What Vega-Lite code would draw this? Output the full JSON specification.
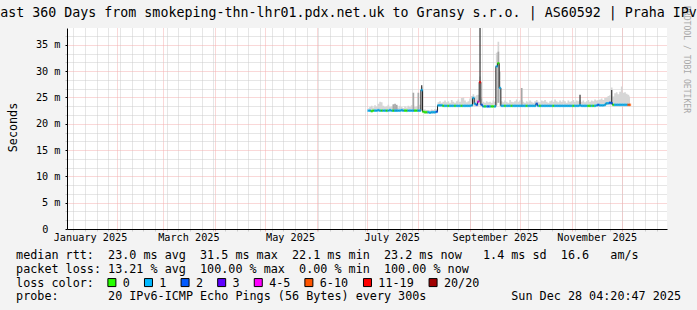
{
"$schema": "https://vega.github.io/schema/vega-lite/v6.json",
"width": 600, "height": 201,
"autosize": {"type": "none"},
"padding": {"left": 67, "top": 28, "right": 30, "bottom": 81},
"background": "#f3f3f3",
"config": {"view": {"fill": "white", "stroke": null}, "font": "DejaVu Sans Mono"},
"title": {"text": "Last 360 Days from smokeping-thn-lhr01.pdx.net.uk to Gransy s.r.o. | AS60592 | Praha IPv6", "font": "DejaVu Sans Mono", "fontSize": 13.3, "fontWeight": "normal", "color": "black", "anchor": "middle", "frame": "group", "dx": -18.5, "baseline": "middle", "offset": -21},
"data": {"values": [
{"d":"2025-07-02","m":22.5,"lo":22.3,"hi":23.0,"l":"1"},
{"d":"2025-07-03","m":22.5,"lo":22.3,"hi":23.2,"l":"1"},
{"d":"2025-07-04","m":22.4,"lo":22.2,"hi":23.4,"l":"0"},
{"d":"2025-07-05","m":22.5,"lo":22.3,"hi":23.1,"l":"0"},
{"d":"2025-07-06","m":22.5,"lo":22.3,"hi":23.5,"l":"1"},
{"d":"2025-07-07","m":22.5,"lo":22.3,"hi":23.3,"l":"1"},
{"d":"2025-07-08","m":22.6,"lo":22.3,"hi":23.8,"l":"1"},
{"d":"2025-07-09","m":22.5,"lo":22.3,"hi":24.2,"l":"1"},
{"d":"2025-07-10","m":22.5,"lo":22.3,"hi":24.1,"l":"0"},
{"d":"2025-07-11","m":22.5,"lo":22.3,"hi":23.4,"l":"1"},
{"d":"2025-07-12","m":22.5,"lo":22.3,"hi":23.2,"l":"1"},
{"d":"2025-07-13","m":22.5,"lo":22.2,"hi":23.3,"l":"0"},
{"d":"2025-07-14","m":22.5,"lo":22.3,"hi":23.6,"l":"1"},
{"d":"2025-07-15","m":22.6,"lo":22.3,"hi":23.2,"l":"1"},
{"d":"2025-07-16","m":22.5,"lo":22.3,"hi":23.3,"l":"1"},
{"d":"2025-07-17","m":22.5,"lo":22.3,"hi":23.5,"l":"0","g":23.7},
{"d":"2025-07-18","m":22.5,"lo":22.3,"hi":23.4,"l":"1","g":23.8},
{"d":"2025-07-19","m":22.5,"lo":22.3,"hi":23.3,"l":"1","g":23.6},
{"d":"2025-07-20","m":22.5,"lo":22.3,"hi":23.1,"l":"1"},
{"d":"2025-07-21","m":22.5,"lo":22.3,"hi":23.4,"l":"1"},
{"d":"2025-07-22","m":22.6,"lo":22.3,"hi":23.2,"l":"1"},
{"d":"2025-07-23","m":22.5,"lo":22.3,"hi":23.0,"l":"1"},
{"d":"2025-07-24","m":22.5,"lo":22.3,"hi":23.3,"l":"0"},
{"d":"2025-07-25","m":22.5,"lo":22.2,"hi":23.1,"l":"0"},
{"d":"2025-07-26","m":22.5,"lo":22.3,"hi":23.4,"l":"1"},
{"d":"2025-07-27","m":22.5,"lo":22.3,"hi":23.2,"l":"1"},
{"d":"2025-07-28","m":22.5,"lo":22.3,"hi":23.5,"l":"1"},
{"d":"2025-07-29","m":22.5,"lo":22.3,"hi":23.5,"l":"1","g":25.9},
{"d":"2025-07-30","m":22.5,"lo":22.3,"hi":23.2,"l":"0"},
{"d":"2025-07-31","m":22.5,"lo":22.3,"hi":23.3,"l":"0"},
{"d":"2025-08-01","m":22.5,"lo":22.3,"hi":23.4,"l":"1","g":25.9},
{"d":"2025-08-02","m":22.5,"lo":22.3,"hi":23.6,"l":"1"},
{"d":"2025-08-03","m":26.4,"lo":22.4,"hi":27.0,"l":"1","k":27.3},
{"d":"2025-08-04","m":22.3,"lo":22.0,"hi":22.8,"l":"0"},
{"d":"2025-08-05","m":22.2,"lo":21.9,"hi":22.7,"l":"0"},
{"d":"2025-08-06","m":22.2,"lo":21.9,"hi":22.6,"l":"0"},
{"d":"2025-08-07","m":22.2,"lo":21.9,"hi":22.6,"l":"1"},
{"d":"2025-08-08","m":22.1,"lo":21.9,"hi":22.5,"l":"1"},
{"d":"2025-08-09","m":22.2,"lo":21.9,"hi":22.7,"l":"1"},
{"d":"2025-08-10","m":22.2,"lo":21.9,"hi":22.6,"l":"1"},
{"d":"2025-08-11","m":22.2,"lo":21.9,"hi":22.8,"l":"1"},
{"d":"2025-08-12","m":22.3,"lo":22.0,"hi":22.8,"l":"2"},
{"d":"2025-08-13","m":23.5,"lo":23.2,"hi":24.1,"l":"1"},
{"d":"2025-08-14","m":23.5,"lo":23.2,"hi":24.3,"l":"1"},
{"d":"2025-08-15","m":23.5,"lo":23.2,"hi":24.0,"l":"1"},
{"d":"2025-08-16","m":23.4,"lo":23.2,"hi":24.2,"l":"0"},
{"d":"2025-08-17","m":23.4,"lo":23.2,"hi":24.4,"l":"1"},
{"d":"2025-08-18","m":23.4,"lo":23.2,"hi":24.1,"l":"1"},
{"d":"2025-08-19","m":23.4,"lo":23.2,"hi":24.3,"l":"0"},
{"d":"2025-08-20","m":23.4,"lo":23.2,"hi":24.0,"l":"1"},
{"d":"2025-08-21","m":23.4,"lo":23.2,"hi":24.5,"l":"1"},
{"d":"2025-08-22","m":23.4,"lo":23.2,"hi":24.2,"l":"1"},
{"d":"2025-08-23","m":23.4,"lo":23.2,"hi":24.0,"l":"0"},
{"d":"2025-08-24","m":23.4,"lo":23.2,"hi":24.3,"l":"1"},
{"d":"2025-08-25","m":23.4,"lo":23.2,"hi":24.6,"l":"1"},
{"d":"2025-08-26","m":23.4,"lo":23.2,"hi":24.2,"l":"1"},
{"d":"2025-08-27","m":23.4,"lo":23.2,"hi":24.9,"l":"0"},
{"d":"2025-08-28","m":23.4,"lo":23.2,"hi":25.0,"l":"1"},
{"d":"2025-08-29","m":23.4,"lo":23.2,"hi":24.4,"l":"1"},
{"d":"2025-08-30","m":23.4,"lo":23.2,"hi":24.1,"l":"1"},
{"d":"2025-08-31","m":23.4,"lo":23.2,"hi":24.3,"l":"1"},
{"d":"2025-09-01","m":23.4,"lo":23.2,"hi":24.8,"l":"1"},
{"d":"2025-09-02","m":23.5,"lo":23.2,"hi":25.3,"l":"1"},
{"d":"2025-09-03","m":24.9,"lo":23.4,"hi":25.6,"l":"1"},
{"d":"2025-09-04","m":23.8,"lo":23.3,"hi":25.2,"l":"1"},
{"d":"2025-09-05","m":23.6,"lo":23.3,"hi":25.4,"l":"2"},
{"d":"2025-09-06","m":24.2,"lo":23.4,"hi":25.5,"l":"4-5"},
{"d":"2025-09-07","m":27.9,"lo":23.5,"hi":29.0,"l":"11-19","k":38.2},
{"d":"2025-09-08","m":23.6,"lo":23.3,"hi":24.8,"l":"2"},
{"d":"2025-09-09","m":23.3,"lo":23.1,"hi":24.2,"l":"1"},
{"d":"2025-09-10","m":23.3,"lo":23.1,"hi":24.0,"l":"0"},
{"d":"2025-09-11","m":23.3,"lo":23.1,"hi":24.3,"l":"1"},
{"d":"2025-09-12","m":23.3,"lo":23.1,"hi":24.1,"l":"2"},
{"d":"2025-09-13","m":23.3,"lo":23.1,"hi":24.2,"l":"1"},
{"d":"2025-09-14","m":23.3,"lo":23.1,"hi":24.0,"l":"0"},
{"d":"2025-09-15","m":23.3,"lo":23.1,"hi":24.4,"l":"0"},
{"d":"2025-09-16","m":23.3,"lo":23.1,"hi":24.2,"l":"1"},
{"d":"2025-09-17","m":30.9,"lo":23.5,"hi":33.5,"l":"1"},
{"d":"2025-09-18","m":31.5,"lo":24.0,"hi":35.6,"l":"0","g":33.7},
{"d":"2025-09-19","m":26.8,"lo":23.4,"hi":30.0,"l":"1"},
{"d":"2025-09-20","m":23.4,"lo":23.2,"hi":24.3,"l":"1"},
{"d":"2025-09-21","m":23.4,"lo":23.2,"hi":24.1,"l":"1"},
{"d":"2025-09-22","m":23.4,"lo":23.2,"hi":24.4,"l":"0"},
{"d":"2025-09-23","m":23.4,"lo":23.2,"hi":24.2,"l":"1"},
{"d":"2025-09-24","m":23.4,"lo":23.2,"hi":24.0,"l":"1"},
{"d":"2025-09-25","m":23.4,"lo":23.2,"hi":24.5,"l":"1"},
{"d":"2025-09-26","m":23.4,"lo":23.2,"hi":24.2,"l":"0"},
{"d":"2025-09-27","m":23.4,"lo":23.2,"hi":24.1,"l":"1"},
{"d":"2025-09-28","m":23.4,"lo":23.2,"hi":24.3,"l":"1"},
{"d":"2025-09-29","m":23.4,"lo":23.2,"hi":24.6,"l":"1"},
{"d":"2025-09-30","m":23.4,"lo":23.2,"hi":24.2,"l":"1"},
{"d":"2025-10-01","m":23.4,"lo":23.2,"hi":24.4,"l":"1"},
{"d":"2025-10-02","m":23.4,"lo":23.2,"hi":24.5,"l":"1","g":26.8},
{"d":"2025-10-03","m":23.4,"lo":23.2,"hi":24.2,"l":"1"},
{"d":"2025-10-04","m":23.4,"lo":23.2,"hi":24.0,"l":"1"},
{"d":"2025-10-05","m":23.4,"lo":23.2,"hi":24.3,"l":"0"},
{"d":"2025-10-06","m":23.4,"lo":23.2,"hi":24.1,"l":"1"},
{"d":"2025-10-07","m":23.4,"lo":23.2,"hi":24.4,"l":"1"},
{"d":"2025-10-08","m":23.4,"lo":23.2,"hi":24.2,"l":"1"},
{"d":"2025-10-09","m":23.4,"lo":23.2,"hi":24.0,"l":"1"},
{"d":"2025-10-10","m":23.4,"lo":23.2,"hi":24.3,"l":"1"},
{"d":"2025-10-11","m":23.8,"lo":23.3,"hi":24.5,"l":"2"},
{"d":"2025-10-12","m":23.4,"lo":23.2,"hi":24.2,"l":"1"},
{"d":"2025-10-13","m":23.4,"lo":23.2,"hi":24.1,"l":"0"},
{"d":"2025-10-14","m":23.4,"lo":23.2,"hi":24.4,"l":"1"},
{"d":"2025-10-15","m":23.4,"lo":23.2,"hi":24.3,"l":"1"},
{"d":"2025-10-16","m":23.4,"lo":23.2,"hi":24.5,"l":"1"},
{"d":"2025-10-17","m":23.4,"lo":23.2,"hi":24.2,"l":"1"},
{"d":"2025-10-18","m":23.4,"lo":23.2,"hi":24.0,"l":"1"},
{"d":"2025-10-19","m":23.4,"lo":23.2,"hi":24.3,"l":"1"},
{"d":"2025-10-20","m":23.4,"lo":23.2,"hi":24.4,"l":"1"},
{"d":"2025-10-21","m":23.4,"lo":23.2,"hi":24.2,"l":"0"},
{"d":"2025-10-22","m":23.4,"lo":23.2,"hi":24.6,"l":"1"},
{"d":"2025-10-23","m":23.4,"lo":23.2,"hi":24.3,"l":"1"},
{"d":"2025-10-24","m":23.4,"lo":23.2,"hi":24.1,"l":"1"},
{"d":"2025-10-25","m":23.4,"lo":23.2,"hi":24.4,"l":"1"},
{"d":"2025-10-26","m":23.4,"lo":23.2,"hi":24.2,"l":"1"},
{"d":"2025-10-27","m":23.4,"lo":23.2,"hi":24.5,"l":"1"},
{"d":"2025-10-28","m":23.4,"lo":23.2,"hi":24.3,"l":"1"},
{"d":"2025-10-29","m":23.4,"lo":23.2,"hi":24.0,"l":"1"},
{"d":"2025-10-30","m":23.4,"lo":23.2,"hi":24.4,"l":"1"},
{"d":"2025-10-31","m":23.4,"lo":23.2,"hi":24.2,"l":"1"},
{"d":"2025-11-01","m":23.4,"lo":23.2,"hi":24.3,"l":"1"},
{"d":"2025-11-02","m":23.4,"lo":23.2,"hi":24.5,"l":"0"},
{"d":"2025-11-03","m":23.4,"lo":23.2,"hi":24.2,"l":"1"},
{"d":"2025-11-04","m":23.4,"lo":23.2,"hi":24.4,"l":"1"},
{"d":"2025-11-05","m":23.4,"lo":23.2,"hi":24.3,"l":"1"},
{"d":"2025-11-06","m":23.5,"lo":23.2,"hi":24.5,"l":"1","k":25.5},
{"d":"2025-11-07","m":23.4,"lo":23.2,"hi":24.2,"l":"1"},
{"d":"2025-11-08","m":23.4,"lo":23.2,"hi":24.4,"l":"1"},
{"d":"2025-11-09","m":23.4,"lo":23.2,"hi":24.1,"l":"1"},
{"d":"2025-11-10","m":23.4,"lo":23.2,"hi":24.3,"l":"1"},
{"d":"2025-11-11","m":23.4,"lo":23.2,"hi":24.5,"l":"0"},
{"d":"2025-11-12","m":23.4,"lo":23.2,"hi":24.2,"l":"0"},
{"d":"2025-11-13","m":23.4,"lo":23.2,"hi":24.4,"l":"1"},
{"d":"2025-11-14","m":23.4,"lo":23.2,"hi":24.3,"l":"0"},
{"d":"2025-11-15","m":23.4,"lo":23.2,"hi":24.6,"l":"1"},
{"d":"2025-11-16","m":23.5,"lo":23.2,"hi":24.4,"l":"1"},
{"d":"2025-11-17","m":23.6,"lo":23.3,"hi":24.5,"l":"2"},
{"d":"2025-11-18","m":23.5,"lo":23.3,"hi":24.6,"l":"1"},
{"d":"2025-11-19","m":23.5,"lo":23.3,"hi":24.8,"l":"1"},
{"d":"2025-11-20","m":23.5,"lo":23.3,"hi":24.5,"l":"1"},
{"d":"2025-11-21","m":23.6,"lo":23.3,"hi":24.9,"l":"1"},
{"d":"2025-11-22","m":23.9,"lo":23.5,"hi":25.0,"l":"1"},
{"d":"2025-11-23","m":23.9,"lo":23.5,"hi":25.3,"l":"1"},
{"d":"2025-11-24","m":24.0,"lo":23.5,"hi":25.4,"l":"2"},
{"d":"2025-11-25","m":23.9,"lo":23.5,"hi":26.9,"l":"2","k":26.4},
{"d":"2025-11-26","m":23.6,"lo":23.3,"hi":25.2,"l":"0"},
{"d":"2025-11-27","m":23.6,"lo":23.3,"hi":25.8,"l":"1"},
{"d":"2025-11-28","m":23.6,"lo":23.3,"hi":26.0,"l":"1"},
{"d":"2025-11-29","m":23.6,"lo":23.3,"hi":25.6,"l":"1"},
{"d":"2025-11-30","m":23.6,"lo":23.3,"hi":26.1,"l":"1"},
{"d":"2025-12-01","m":23.6,"lo":23.3,"hi":27.1,"l":"1"},
{"d":"2025-12-02","m":23.6,"lo":23.3,"hi":25.9,"l":"1"},
{"d":"2025-12-03","m":23.6,"lo":23.3,"hi":26.0,"l":"1"},
{"d":"2025-12-04","m":23.6,"lo":23.3,"hi":25.7,"l":"1"},
{"d":"2025-12-05","m":23.6,"lo":23.3,"hi":25.5,"l":"6-10"},
{"d":"2025-12-06","m":23.6,"lo":23.3,"hi":25.2,"l":"6-10"}
]},
"layer": [
{"mark": {"type": "area", "interpolate": "step", "color": "#d6d6d6"},
 "encoding": {
  "x": {"field": "d", "type": "temporal",
   "scale": {"type": "utc", "domain": [{"year":2025,"month":1,"date":2,"hours":4,"minutes":20,"seconds":47,"utc":true},{"year":2025,"month":12,"date":28,"hours":4,"minutes":20,"seconds":47,"utc":true}]},
   "axis": {"orient": "bottom", "title": null, "labels": false, "ticks": true, "tickSize": 2, "tickColor": "#cccccc", "domain": false, "grid": true, "gridColor": "#cccccc", "gridDash": [1, 1], "zindex": 0,
    "values": [{"year":2025,"month":1,"date":6,"utc":true},{"year":2025,"month":1,"date":13,"utc":true},{"year":2025,"month":1,"date":20,"utc":true},{"year":2025,"month":1,"date":27,"utc":true},{"year":2025,"month":2,"date":3,"utc":true},{"year":2025,"month":2,"date":10,"utc":true},{"year":2025,"month":2,"date":17,"utc":true},{"year":2025,"month":2,"date":24,"utc":true},{"year":2025,"month":3,"date":3,"utc":true},{"year":2025,"month":3,"date":10,"utc":true},{"year":2025,"month":3,"date":17,"utc":true},{"year":2025,"month":3,"date":24,"utc":true},{"year":2025,"month":3,"date":31,"utc":true},{"year":2025,"month":4,"date":7,"utc":true},{"year":2025,"month":4,"date":14,"utc":true},{"year":2025,"month":4,"date":21,"utc":true},{"year":2025,"month":4,"date":28,"utc":true},{"year":2025,"month":5,"date":5,"utc":true},{"year":2025,"month":5,"date":12,"utc":true},{"year":2025,"month":5,"date":19,"utc":true},{"year":2025,"month":5,"date":26,"utc":true},{"year":2025,"month":6,"date":2,"utc":true},{"year":2025,"month":6,"date":9,"utc":true},{"year":2025,"month":6,"date":16,"utc":true},{"year":2025,"month":6,"date":23,"utc":true},{"year":2025,"month":6,"date":30,"utc":true},{"year":2025,"month":7,"date":7,"utc":true},{"year":2025,"month":7,"date":14,"utc":true},{"year":2025,"month":7,"date":21,"utc":true},{"year":2025,"month":7,"date":28,"utc":true},{"year":2025,"month":8,"date":4,"utc":true},{"year":2025,"month":8,"date":11,"utc":true},{"year":2025,"month":8,"date":18,"utc":true},{"year":2025,"month":8,"date":25,"utc":true},{"year":2025,"month":9,"date":1,"utc":true},{"year":2025,"month":9,"date":8,"utc":true},{"year":2025,"month":9,"date":15,"utc":true},{"year":2025,"month":9,"date":22,"utc":true},{"year":2025,"month":9,"date":29,"utc":true},{"year":2025,"month":10,"date":6,"utc":true},{"year":2025,"month":10,"date":13,"utc":true},{"year":2025,"month":10,"date":20,"utc":true},{"year":2025,"month":10,"date":27,"utc":true},{"year":2025,"month":11,"date":3,"utc":true},{"year":2025,"month":11,"date":10,"utc":true},{"year":2025,"month":11,"date":17,"utc":true},{"year":2025,"month":11,"date":24,"utc":true},{"year":2025,"month":12,"date":1,"utc":true},{"year":2025,"month":12,"date":8,"utc":true},{"year":2025,"month":12,"date":15,"utc":true},{"year":2025,"month":12,"date":22,"utc":true}]}},
  "y": {"field": "lo", "type": "quantitative", "scale": {"domain": [0, 38.2], "nice": false},
   "axis": {"orient": "left", "title": null, "labels": false, "ticks": true, "tickSize": 2, "tickColor": "#cccccc", "domain": false, "grid": true, "gridColor": "#cccccc", "gridDash": [1, 1], "zindex": 0,
    "values": [1.6667, 3.3333, 6.6667, 8.3333, 11.6667, 13.3333, 16.6667, 18.3333, 21.6667, 23.3333, 26.6667, 28.3333, 31.6667, 33.3333, 36.6667]}},
  "y2": {"field": "hi"}}},
{"transform": [{"filter": "isValid(datum.g)"}],
 "mark": {"type": "rule", "color": "#a8a8a8", "strokeWidth": 1.7},
 "encoding": {
  "x": {"field": "d", "type": "temporal",
   "scale": {"type": "utc", "domain": [{"year":2025,"month":1,"date":2,"hours":4,"minutes":20,"seconds":47,"utc":true},{"year":2025,"month":12,"date":28,"hours":4,"minutes":20,"seconds":47,"utc":true}]},
   "axis": {"orient": "bottom", "title": null, "labels": false, "ticks": true, "tickSize": 2, "tickColor": "#f4b0b0", "domain": false, "grid": true, "gridColor": "#f4b0b0", "gridDash": [1, 1], "zindex": 0,
    "values": [{"year":2025,"month":2,"date":1,"utc":true},{"year":2025,"month":3,"date":1,"utc":true},{"year":2025,"month":4,"date":1,"utc":true},{"year":2025,"month":5,"date":1,"utc":true},{"year":2025,"month":6,"date":1,"utc":true},{"year":2025,"month":7,"date":1,"utc":true},{"year":2025,"month":8,"date":1,"utc":true},{"year":2025,"month":9,"date":1,"utc":true},{"year":2025,"month":10,"date":1,"utc":true},{"year":2025,"month":11,"date":1,"utc":true},{"year":2025,"month":12,"date":1,"utc":true}]}},
  "y": {"field": "lo", "type": "quantitative", "scale": {"domain": [0, 38.2], "nice": false},
   "axis": {"orient": "left", "title": "Seconds", "titleFont": "DejaVu Sans Mono", "titleFontSize": 11.75, "titleFontWeight": "normal", "titleColor": "black", "titleAngle": -90, "titleX": -55, "titleY": 99, "titleAlign": "center", "titleBaseline": "middle",
    "values": [0, 5, 10, 15, 20, 25, 30, 35], "labelExpr": "datum.value == 0 ? '0' : datum.value + ' m'",
    "labelFont": "DejaVu Sans Mono", "labelFontSize": 10.2, "labelColor": "black", "labelPadding": {"condition": {"test": "datum.value == 0", "value": 17}, "value": 5},
    "ticks": true, "tickSize": 2, "tickColor": "black", "domain": true, "domainColor": "black", "grid": true, "gridColor": "#f4b0b0", "gridDash": [1, 1], "zindex": 0}},
  "y2": {"field": "g"}}},
{"mark": {"type": "line", "interpolate": "step", "color": "#222222", "strokeWidth": 1},
 "encoding": {
  "x": {"field": "d", "type": "temporal",
   "scale": {"type": "utc", "domain": [{"year":2025,"month":1,"date":2,"hours":4,"minutes":20,"seconds":47,"utc":true},{"year":2025,"month":12,"date":28,"hours":4,"minutes":20,"seconds":47,"utc":true}]},
   "axis": {"orient": "bottom", "grid": false, "ticks": false, "domain": true, "domainColor": "black", "zindex": 1,
    "values": [{"year":2025,"month":1,"date":16,"utc":true},{"year":2025,"month":3,"date":16,"utc":true},{"year":2025,"month":5,"date":16,"utc":true},{"year":2025,"month":7,"date":16,"utc":true},{"year":2025,"month":9,"date":16,"utc":true},{"year":2025,"month":11,"date":16,"utc":true}],
    "labelExpr": "utcFormat(datum.value, '%B %Y')", "labelFont": "DejaVu Sans Mono", "labelFontSize": 10.2, "labelColor": "black", "labelPadding": 3, "labelFlush": false, "labelOverlap": false,
    "title": ["median rtt:\u00a0\u00a023.0 ms avg\u00a0\u00a031.5 ms max\u00a0\u00a022.1 ms min\u00a0\u00a023.2 ms now\u00a0\u00a0\u00a01.4 ms sd\u00a0\u00a016.6\u00a0\u00a0\u00a0am/s", "packet loss: 13.21 % avg\u00a0\u00a0100.00 % max\u00a0\u00a00.00 % min\u00a0\u00a0100.00 % now", "loss color:", "probe:\u00a0\u00a0\u00a0\u00a0\u00a0\u00a0\u00a020 IPv6-ICMP Echo Pings (56 Bytes) every 300s\u00a0\u00a0\u00a0\u00a0\u00a0\u00a0\u00a0\u00a0\u00a0\u00a0\u00a0\u00a0Sun Dec 28 04:20:47 2025"],
    "titleFont": "DejaVu Sans Mono", "titleFontSize": 11.75, "titleFontWeight": "normal", "titleColor": "black", "titleAlign": "left", "titleAnchor": "start", "titleBaseline": "middle", "titleX": -51.4, "titleY": 25.3, "titleLineHeight": 13.9}},
  "y": {"field": "m", "type": "quantitative", "scale": {"domain": [0, 38.2], "nice": false},
   "axis": {"orient": "right", "labels": false, "ticks": false, "domain": false, "grid": false, "title": "RRDTOOL / TOBI OETIKER", "titleFont": "DejaVu Sans Mono", "titleFontSize": 8.1, "titleFontWeight": "normal", "titleColor": "#a8a8a8", "titleAngle": 90, "titleX": 18.5, "titleY": 31, "titleAlign": "center", "titleBaseline": "middle"}}}},
{"transform": [{"filter": "isValid(datum.k)"}],
 "mark": {"type": "rule", "color": "#333333", "strokeWidth": 1.2},
 "encoding": {
  "x": {"field": "d", "type": "temporal",
   "scale": {"type": "utc", "domain": [{"year":2025,"month":1,"date":2,"hours":4,"minutes":20,"seconds":47,"utc":true},{"year":2025,"month":12,"date":28,"hours":4,"minutes":20,"seconds":47,"utc":true}]}, "axis": null},
  "y": {"field": "m", "type": "quantitative", "scale": {"domain": [0, 38.2], "nice": false}, "axis": null},
  "y2": {"field": "k"}}},
{"mark": {"type": "tick", "orient": "horizontal", "thickness": 2.5, "size": 2.2},
 "encoding": {
  "x": {"field": "d", "type": "temporal",
   "scale": {"type": "utc", "domain": [{"year":2025,"month":1,"date":2,"hours":4,"minutes":20,"seconds":47,"utc":true},{"year":2025,"month":12,"date":28,"hours":4,"minutes":20,"seconds":47,"utc":true}]}, "axis": null},
  "y": {"field": "m", "type": "quantitative", "scale": {"domain": [0, 38.2], "nice": false}, "axis": null},
  "color": {"field": "l", "type": "nominal",
   "scale": {"domain": ["0", "1", "2", "3", "4-5", "6-10", "11-19", "20/20"], "range": ["#26ff00", "#00b8ff", "#0059ff", "#5e00ff", "#ff00ff", "#ff5500", "#ff0000", "#a00000"]},
   "legend": {"orient": "none", "legendX": 39, "legendY": 248.5, "direction": "horizontal", "columns": 8, "title": null, "labelFont": "DejaVu Sans Mono", "labelFontSize": 11.75, "labelColor": "black", "labelOffset": 5, "columnPadding": 11.6, "symbolType": "square", "symbolSize": 64, "symbolStrokeColor": "black", "symbolStrokeWidth": 1, "symbolOpacity": 1, "padding": 0}}}}
],
"resolve": {"axis": {"x": "independent", "y": "independent"}}
}
